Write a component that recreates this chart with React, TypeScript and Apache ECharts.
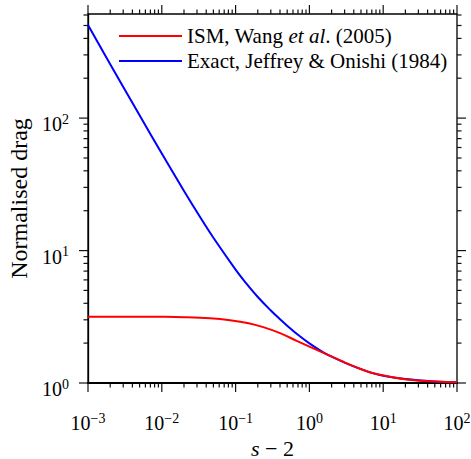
import React, { useEffect, useRef } from "react";
import * as echarts from "echarts";

const SERIF = "'Liberation Serif', 'Times New Roman', serif";

const ISM_NAME = "ISM, Wang et al. (2005)";
const EXACT_NAME = "Exact, Jeffrey & Onishi (1984)";

// ISM (red) curve
const ismX = [0.001, 0.003, 0.01, 0.02, 0.045, 0.084, 0.15, 0.237, 0.4, 0.673, 1.13, 1.55, 2.88, 4.85, 7.35, 20.8, 58.9, 100];
const ismY = [3.17, 3.17, 3.16, 3.14, 3.08, 2.98, 2.83, 2.64, 2.38, 2.08, 1.825, 1.69, 1.446, 1.282, 1.184, 1.063, 1.023, 1.012];

// Exact (blue) curve
const exactX = [0.001, 0.002, 0.005, 0.01, 0.02, 0.035, 0.05, 0.1, 0.134, 0.2, 0.3, 0.4, 0.5, 0.7, 1, 1.5, 2, 3, 5, 7, 10, 20, 50, 100];
const exactY = [505, 255, 105, 54, 28.2, 17.0, 12.5, 7.18, 5.81, 4.46, 3.53, 3.03, 2.71, 2.31, 1.99, 1.72, 1.58, 1.427, 1.272, 1.193, 1.135, 1.07, 1.027, 1.013];

// Axis ranges and tick positions
const X_MIN = 0.001;
const X_MAX = 100;
const Y_MIN = 1;
const Y_MAX = 611;
const xDecades = [0.001, 0.01, 0.1, 1, 10, 100];
const yDecades = [1, 10, 100];
const minorSteps = [2, 3, 4, 5, 6, 7, 8, 9];

function powLabel(v: number): string {
  const l = Math.log10(v);
  const e = Math.round(l);
  if (Math.abs(l - e) > 1e-6) return "";
  const s = e < 0 ? "\u2212" + String(-e) : String(e);
  return `{b|10}{e|${s}}`;
}

const labelRich = {
  b: { fontFamily: SERIF, fontSize: 20, lineHeight: 24, color: "#000", verticalAlign: "middle" },
  e: { fontFamily: SERIF, fontSize: 14, lineHeight: 12, color: "#000", verticalAlign: "top" },
};

export default function App() {
  const ref = useRef<HTMLDivElement>(null);
  useEffect(() => {
    if (!ref.current) return;
    const chart = echarts.init(ref.current, undefined, { renderer: "svg" });
    const ismData = ismX.map((x, i) => [x, ismY[i]]);
    const exactData = exactX.map((x, i) => [x, exactY[i]]);
    chart.setOption({
      animation: false,
      backgroundColor: "#fff",
      grid: {
        left: 88,
        right: 14,
        top: 14,
        bottom: 76,
        outerBoundsMode: "none",
        containLabel: false,
        show: true,
        borderColor: "#000",
        borderWidth: 1.3,
        backgroundColor: "transparent",
      },
      legend: {
        data: [ISM_NAME, EXACT_NAME],
        orient: "vertical",
        left: 119,
        top: 25,
        padding: 0,
        icon: "rect",
        itemWidth: 63,
        itemHeight: 2,
        itemGap: 3,
        textStyle: {
          fontFamily: SERIF,
          fontSize: 21,
          lineHeight: 22,
          color: "#000",
          rich: {
            i: { fontFamily: SERIF, fontSize: 21, lineHeight: 22, fontStyle: "italic", color: "#000" },
          },
        },
        formatter: (name: string) =>
          name === ISM_NAME ? "ISM, Wang {i|et al}. (2005)" : name,
      },
      xAxis: {
        type: "log",
        logBase: 10,
        min: X_MIN,
        max: X_MAX,
        name: "{i|s} \u2212 2",
        nameLocation: "middle",
        nameGap: 53,
        nameTextStyle: {
          fontFamily: SERIF,
          fontSize: 22,
          color: "#000",
          rich: { i: { fontFamily: SERIF, fontSize: 22, fontStyle: "italic", color: "#000" } },
        },
        axisLine: { show: true, lineStyle: { color: "#000", width: 2 } },
        axisTick: { show: false },
        splitLine: { show: false },
        axisLabel: {
          margin: 28,
          showMinLabel: true,
          showMaxLabel: true,
          formatter: powLabel,
          rich: labelRich,
        },
      },
      yAxis: {
        type: "log",
        logBase: 10,
        min: Y_MIN,
        max: Y_MAX,
        name: "Normalised drag",
        nameLocation: "middle",
        nameGap: 57,
        nameTextStyle: { fontFamily: SERIF, fontSize: 24, color: "#000" },
        axisLine: { show: true, lineStyle: { color: "#000", width: 1.3 } },
        axisTick: { show: false },
        splitLine: { show: false },
        axisLabel: {
          margin: 19,
          showMinLabel: true,
          padding: [12, 0, 0, 0],
          formatter: powLabel,
          rich: labelRich,
        },
      },
      series: [
        {
          name: EXACT_NAME,
          type: "line",
          data: exactData,
          symbol: "none",
          smooth: 0.4,
          lineStyle: { color: "#0000ff", width: 2 },
          itemStyle: { color: "#0000ff" },
          z: 3,
        },
        {
          name: ISM_NAME,
          type: "line",
          data: ismData,
          symbol: "none",
          smooth: 0.4,
          lineStyle: { color: "#ff0000", width: 2 },
          itemStyle: { color: "#ff0000" },
          z: 4,
        },
      ],
    });

    // Axis ticks (major + log minor) on all four sides, positioned through the axes' own scales
    const finder = { xAxisIndex: 0, yAxisIndex: 0 };
    const toPx = (x: number, y: number): number[] => {
      const p = chart.convertToPixel(finder, [x, y]) as any;
      return [Number(p[0]), Number(p[1])];
    };
    const bl = toPx(X_MIN, Y_MIN);
    const tr = toPx(X_MAX, Y_MAX);
    const left = bl[0];
    const bottom = bl[1];
    const right = tr[0];
    const top = tr[1];
    const els: any[] = [];
    const seg = (x1: number, y1: number, x2: number, y2: number) => {
      els.push({
        type: "line",
        shape: {
          x1: Math.round(x1 * 10) / 10,
          y1: Math.round(y1 * 10) / 10,
          x2: Math.round(x2 * 10) / 10,
          y2: Math.round(y2 * 10) / 10,
        },
        style: { stroke: "#111111", lineWidth: 1.2 },
      });
    };
    const addX = (v: number, len: number) => {
      const x = toPx(v, Y_MIN)[0];
      seg(x, bottom, x, bottom + len);
      seg(x, top, x, top - len);
    };
    const addY = (v: number, len: number) => {
      const y = toPx(X_MIN, v)[1];
      seg(left, y, left - len, y);
      seg(right, y, right + len, y);
    };
    xDecades.forEach((d) => {
      addX(d, 9);
      if (d < X_MAX) minorSteps.forEach((m) => addX(d * m, 4.5));
    });
    yDecades.forEach((d) => {
      addY(d, 9);
      minorSteps.forEach((m) => {
        if (d * m <= Y_MAX) addY(d * m, 4.5);
      });
    });
    chart.setOption({ graphic: { elements: els } });

    return () => chart.dispose();
  }, []);
  return (
    <div
      ref={ref}
      style={{ position: "fixed", left: 0, top: 0, width: 471, height: 459 }}
    />
  );
}
